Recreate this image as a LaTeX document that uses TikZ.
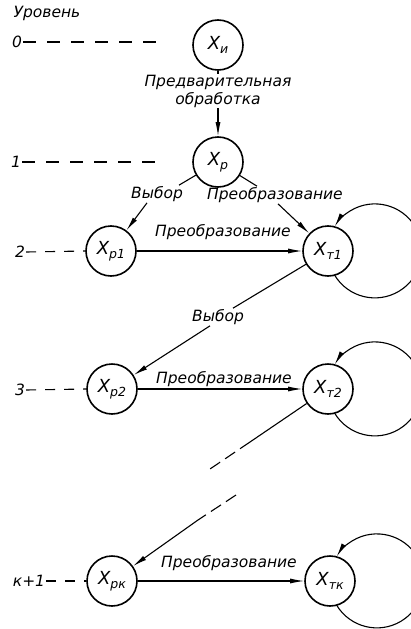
\documentclass[tikz,border=0pt]{standalone}
\usepackage{fontspec}
\setmainfont{DejaVu Sans}
\usetikzlibrary{arrows.meta}
\newcommand{\Xsub}[1]{{\fontsize{18}{18}\selectfont X}\raisebox{-4.5pt}{\fontsize{12.5}{12.5}\selectfont #1}}
\begin{document}
\begin{tikzpicture}[x=1pt,y=1pt,
  state/.style={circle,draw,line width=1.6pt,minimum size=50pt,inner sep=0pt,font=\itshape},
  lbl/.style={inner sep=1pt,font=\itshape\fontsize{15.5}{18}\selectfont},
  conn/.style={line width=1.1pt},
  arr/.style={conn,-{Latex[length=14pt,width=5pt]}},
  brk/.style={conn,dash pattern=on 12pt off 6pt},
  lvl/.style={line width=1.1pt,dash pattern=on 13pt off 11pt},
  lvls/.style={line width=1.1pt,dash pattern=on 10pt off 9pt}]
\useasboundingbox (0,0) rectangle (411,-629);
% states
\node[state] (xi)  at (218,-45)  {\Xsub{и}};
\node[state] (xp)  at (218,-162) {\Xsub{р}};
\node[state] (xp1) at (111,-251) {\Xsub{р1}};
\node[state] (xt1) at (328,-251) {\Xsub{т1}};
\node[state] (xp2) at (112,-389) {\Xsub{р2}};
\node[state] (xt2) at (328,-389) {\Xsub{т2}};
\node[state] (xpk) at (112,-581) {\Xsub{рк}};
\node[state] (xtk) at (330,-581) {\Xsub{тк}};
% level labels
\node[lbl] (hdr) at (47,-13) {Уровень};
\node[lbl] (l0) at (17,-42) {0};
\node[lbl] (l1) at (16,-162) {1};
\node[lbl] (l2) at (20,-252) {2};
\node[lbl] (l3) at (20,-390) {3};
\node[lbl] (lk) at (29,-581) {к+1};
\coordinate (e0) at (166,-42);
\coordinate (e1) at (158,-162);
\draw[lvl] (l0.east) -- (e0);
\draw[lvl] (l1.east) -- (e1);
\draw[lvls] (l2.east) -- (xp1.west);
\draw[lvls] (l3.east) -- (xp2.west);
\draw[lvls] (lk.east) -- (xpk.west);
% edge labels
\node[lbl,align=center] (pre) at (218,-91) {Предварительная\\обработка};
\node[lbl] (vyb1) at (157,-194) {Выбор};
\node[lbl] (pre1) at (275,-195) {Преобразование};
\node[lbl] (pre2) at (223,-232) {Преобразование};
\node[lbl] (vyb2) at (218,-317) {Выбор};
\node[lbl] (pre3) at (224,-379) {Преобразование};
\node[lbl] (prek) at (229,-563) {Преобразование};
% connectors
\draw[conn] (xi) -- (pre.north);
\draw[arr] (pre.south) -- (xp);
\draw[conn] (xp) -- ([xshift=22pt]vyb1.north);
\draw[arr] ([xshift=-10pt]vyb1.south) -- (xp1);
\draw[conn] (xp) -- ([xshift=-18pt]pre1.north);
\draw[arr] ([xshift=3pt]pre1.south) -- (xt1);
\draw[arr] (xp1) -- (xt1);
\draw[conn] (xt1) -- ([xshift=15pt]vyb2.north);
\draw[arr] ([xshift=-8pt]vyb2.south) -- (xp2);
\draw[arr] (xp2) -- (xt2);
\coordinate (a1) at (250,-442);
\coordinate (a2) at (207,-471);
\coordinate (b1) at (236,-495);
\coordinate (b2) at (198,-520);
\draw[conn] (xt2) -- (a1);
\draw[brk] (a1) -- (a2);
\draw[brk] (b1) -- (b2);
\draw[arr] (b2) -- (xpk);
\draw[arr] (xpk) -- (xtk);
% self loops
\draw[arr] ([shift={(6.6,-24.1)}]xt1.center) arc[start angle=211,end angle=509,radius=47];
\draw[arr] ([shift={(6.6,-24.1)}]xt2.center) arc[start angle=211,end angle=509,radius=47];
\draw[arr] ([shift={(6.6,-24.1)}]xtk.center) arc[start angle=211,end angle=509,radius=47];
\end{tikzpicture}
\end{document}
